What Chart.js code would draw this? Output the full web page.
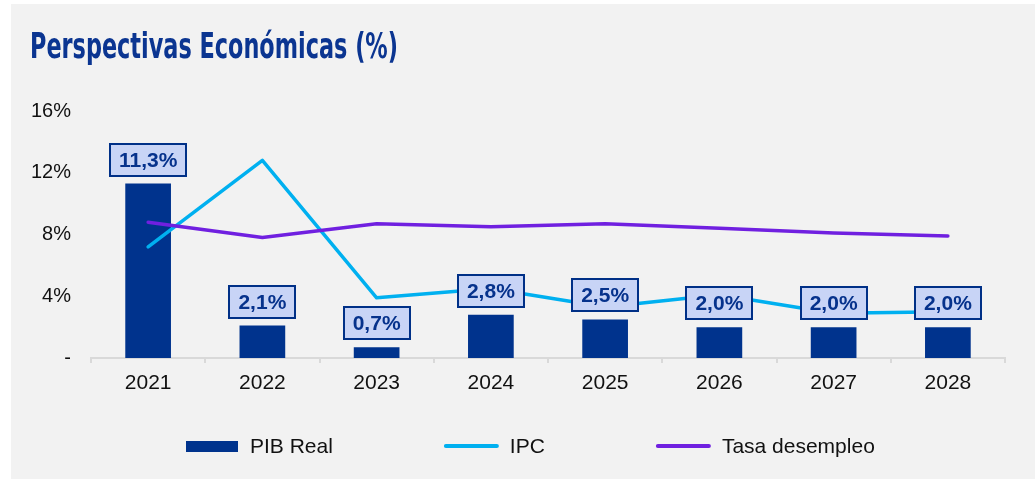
<!DOCTYPE html>
<html>
<head>
<meta charset="utf-8">
<script src="https://cdn.jsdelivr.net/npm/chart.js@4.4.1/dist/chart.umd.min.js"></script>
<style>
  html, body { margin: 0; padding: 0; background: #ffffff; }
  #wrap { position: relative; width: 1035px; height: 479px; overflow: hidden; }
  #panel { position: absolute; left: 11px; top: 4px; width: 1024px; height: 475px; background: #f2f2f2; }
  #c { position: absolute; left: 0; top: 0; }
</style>
</head>
<body>
<div id="wrap">
  <div id="panel"></div>
  <canvas id="c" width="1035" height="479"></canvas>
</div>
<script>
const chartTitle = 'Perspectivas Económicas (%)';
const categories = ['2021', '2022', '2023', '2024', '2025', '2026', '2027', '2028'];
const seriesNames = ['PIB Real', 'IPC', 'Tasa desempleo'];
const pibReal = [11.3, 2.1, 0.7, 2.8, 2.5, 2.0, 2.0, 2.0];
const ipc = [7.2, 12.8, 3.9, 4.5, 3.3, 4.1, 2.9, 3.0];
const desempleo = [8.8, 7.8, 8.7, 8.5, 8.7, 8.4, 8.1, 7.9];
const yTickValues = [0, 4, 8, 12, 16];
const yTickLabels = ['-', '4%', '8%', '12%', '16%'];

const NAVY = '#00338d';
const CYAN = '#00b0f0';
const PURPLE = '#7020e0';
const TEXT = '#111111';
const FONT = '"Liberation Sans", Arial, sans-serif';

function fmt(v) { return v.toFixed(1).replace('.', ',') + '%'; }

const titlePlugin = {
  id: 'titlePlugin',
  afterDraw(chart) {
    const ctx = chart.ctx;
    ctx.save();
    ctx.font = 'bold 36px "Liberation Sans Narrow", "DejaVu Sans Condensed", "Liberation Sans", sans-serif';
    ctx.fillStyle = '#0b3591';
    ctx.textBaseline = 'alphabetic';
    const w = ctx.measureText(chartTitle).width;
    const target = 368;
    ctx.translate(30, 58);
    ctx.scale(target / w, 1);
    ctx.fillText(chartTitle, 0, 0);
    ctx.restore();
  }
};

const barLabelPlugin = {
  id: 'barLabelPlugin',
  afterDatasetsDraw(chart) {
    const ctx = chart.ctx;
    const meta = chart.getDatasetMeta(0);
    ctx.save();
    ctx.font = 'bold 21px ' + FONT;
    ctx.textAlign = 'center';
    ctx.textBaseline = 'middle';
    meta.data.forEach((bar, i) => {
      const txt = fmt(chart.data.datasets[0].data[i]);
      const tw = ctx.measureText(txt).width;
      const bw = Math.round(tw + 20);
      const bh = 34;
      const cx = bar.x;
      const bottom = bar.y - 7;
      const x0 = Math.round(cx - bw / 2);
      const y0 = Math.round(bottom - bh);
      ctx.fillStyle = '#c8d4f6';
      ctx.fillRect(x0, y0, bw, bh);
      ctx.strokeStyle = '#003087';
      ctx.lineWidth = 2;
      ctx.strokeRect(x0 + 1, y0 + 1, bw - 2, bh - 2);
      ctx.fillStyle = '#06328c';
      ctx.fillText(txt, cx, y0 + bh / 2 + 1);
    });
    ctx.restore();
  }
};

const legendPlugin = {
  id: 'legendPlugin',
  afterDraw(chart) {
    const ctx = chart.ctx;
    const ds = chart.data.datasets;
    const yMid = 446;
    let x = 186;
    ctx.save();
    ctx.font = '21px ' + FONT;
    ctx.textBaseline = 'middle';
    ctx.textAlign = 'left';
    ds.forEach((d, i) => {
      if (d.type === 'bar') {
        ctx.fillStyle = d.backgroundColor;
        ctx.fillRect(x, yMid - 5, 52, 11);
        x += 52 + 12;
      } else {
        ctx.strokeStyle = d.borderColor;
        ctx.lineWidth = 4;
        ctx.lineCap = 'round';
        ctx.beginPath();
        ctx.moveTo(x + 2, yMid);
        ctx.lineTo(x + 53, yMid);
        ctx.stroke();
        x += 55 + 11;
      }
      ctx.fillStyle = TEXT;
      ctx.fillText(d.label, x, yMid + 1);
      x += ctx.measureText(d.label).width + 111;
    });
    ctx.restore();
  }
};

new Chart(document.getElementById('c'), {
  data: {
    labels: categories,
    datasets: [
      {
        type: 'bar',
        label: seriesNames[0],
        data: pibReal,
        backgroundColor: NAVY,
        borderWidth: 0,
        barPercentage: 0.5,
        categoryPercentage: 0.8,
        order: 3
      },
      {
        type: 'line',
        label: seriesNames[1],
        data: ipc,
        borderColor: CYAN,
        backgroundColor: CYAN,
        borderWidth: 3.5,
        pointRadius: 0,
        tension: 0,
        borderCapStyle: 'round',
        borderJoinStyle: 'round',
        order: 2
      },
      {
        type: 'line',
        label: seriesNames[2],
        data: desempleo,
        borderColor: PURPLE,
        backgroundColor: PURPLE,
        borderWidth: 3.5,
        pointRadius: 0,
        tension: 0,
        borderCapStyle: 'round',
        borderJoinStyle: 'round',
        order: 1
      }
    ]
  },
  options: {
    responsive: false,
    animation: false,
    devicePixelRatio: 1,
    layout: { padding: { top: 111, right: 30, left: 0, bottom: 0 } },
    plugins: {
      legend: { display: false },
      tooltip: { enabled: false },
      title: { display: false }
    },
    scales: {
      x: {
        offset: true,
        grid: {
          offset: true,
          drawOnChartArea: false,
          drawTicks: true,
          tickLength: 5,
          color: '#d9d9d9',
          lineWidth: 2
        },
        border: { display: true, color: '#d9d9d9', width: 2 },
        ticks: { color: TEXT, font: { family: FONT, size: 21 }, padding: 8 },
        afterFit(scale) { scale.height = 121; }
      },
      y: {
        min: 0,
        max: 16,
        afterBuildTicks(scale) { scale.ticks = yTickValues.map(v => ({ value: v })); },
        grid: { display: false, drawTicks: false },
        border: { display: false },
        ticks: {
          color: TEXT,
          font: { family: FONT, size: 20 },
          padding: 20,
          callback(value) {
            const idx = yTickValues.indexOf(value);
            return idx >= 0 ? yTickLabels[idx] : '';
          }
        },
        afterFit(scale) { scale.width = 91; }
      }
    }
  },
  plugins: [titlePlugin, barLabelPlugin, legendPlugin]
});
</script>
</body>
</html>
